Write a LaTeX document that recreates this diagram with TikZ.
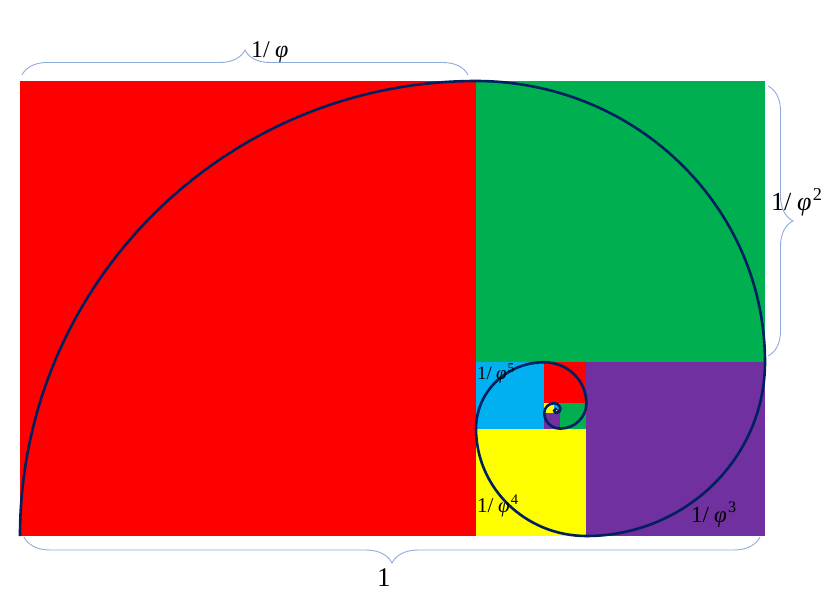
\documentclass[tikz,border=0pt]{standalone}
\usepackage{fontspec}
\setmainfont{Liberation Serif}
\usetikzlibrary{decorations.pathreplacing}
\definecolor{goldred}{HTML}{FF0000}
\definecolor{goldgreen}{HTML}{00B050}
\definecolor{goldpurple}{HTML}{7030A0}
\definecolor{goldyellow}{HTML}{FFFF00}
\definecolor{goldblue}{HTML}{00B0F0}
\definecolor{spiralblue}{HTML}{002060}
\definecolor{bracegray}{HTML}{8FAADC}
\newcommand{\phifrac}[1]{1/\kern0.22em\textit{φ}\kern0.05em\textsuperscript{#1}}

\begin{document}
\begin{tikzpicture}[x=1pt, y=-1pt,
  brace/.style={draw=bracegray, line width=0.9pt, decorate, decoration={brace, amplitude=25pt}},
  lbl/.style={inner sep=0pt, anchor=base west},
  spiral/.style={draw=spiralblue, line width=2.6pt}]
\useasboundingbox (0,0) rectangle (840,606);
\begin{scope}[shift={(20,536)}, x=456pt, y=455pt]
\fill[goldred] (0,0) rectangle (1,1);
\path[spiral] (0,0) arc[start angle=180, end angle=90, radius=1];
\end{scope}
\begin{scope}[shift={(8.4,536)}, x=467.6pt, y=455pt]
\coordinate (p1) at (1,1);
\foreach \k [count=\n from 2] in {1,...,13}
  \path (p\k) arc[start angle=180-90*\k, end angle=90-90*\k, radius={0.618034^\k}] coordinate (p\n);
\foreach \c [count=\n from 2] in {goldgreen,goldpurple,goldyellow,goldblue,goldred,goldgreen,goldpurple,goldyellow,goldblue,goldred,goldgreen,goldpurple}{
  \pgfmathtruncatemacro\k{\n-1}
  \fill[\c] (p\k) rectangle (p\n);
}
\path[spiral] (p1) foreach \k in {1,...,13} {arc[start angle=180-90*\k, end angle=90-90*\k, radius={0.618034^\k}]};
\end{scope}

\coordinate (top west) at (22,75);
\coordinate (top east) at (468,75);
\coordinate (right north) at (768,86);
\coordinate (right south) at (768,356);
\coordinate (bottom east) at (760,537);
\coordinate (bottom west) at (24,537);
\path[brace] (top west) -- (top east);
\path[brace] (right north) -- (right south);
\path[brace, decoration={amplitude=26pt}] (bottom east) -- (bottom west);

\node[lbl, font=\fontsize{24}{26}\selectfont] (l1) at (251,57) {1/\kern0.22em\textit{φ}};
\node[lbl, font=\fontsize{26}{28}\selectfont] (l2) at (771,210) {\phifrac{2}};
\node[lbl, font=\fontsize{23}{25}\selectfont] (l3) at (691,522) {\phifrac{3}};
\node[lbl, font=\fontsize{21}{23}\selectfont] (l4) at (477,512) {\phifrac{4}};
\node[lbl, font=\fontsize{19}{21}\selectfont] (l5) at (477,379) {\phifrac{5}};
\node[lbl, font=\fontsize{27}{29}\selectfont] (l0) at (377,586) {1};
\end{tikzpicture}
\end{document}
